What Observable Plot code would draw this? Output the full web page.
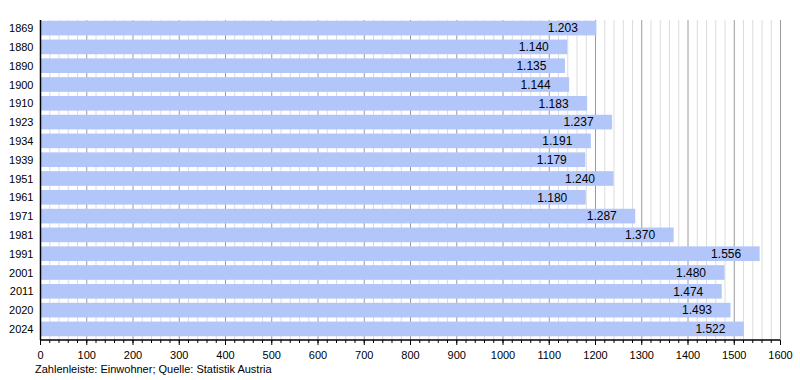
<!DOCTYPE html>
<html><head><meta charset="utf-8">
<script src="https://cdn.jsdelivr.net/npm/d3@7"></script>
<script src="https://cdn.jsdelivr.net/npm/@observablehq/plot@0.6"></script>
<style>
body{margin:0;background:#fff;font-family:"Liberation Sans",Arial,sans-serif;}
#cap{font-size:11px;margin-left:35px;line-height:14px;color:#000;}
</style></head>
<body><div id="chart"></div><div id="cap">Zahlenleiste: Einwohner; Quelle: Statistik Austria</div>
<script>
const years = ["1869","1880","1890","1900","1910","1923","1934","1939","1951","1961","1971","1981","1991","2001","2011","2020","2024"];
const population = [1203,1140,1135,1144,1183,1237,1191,1179,1240,1180,1287,1370,1556,1480,1474,1493,1522];
const majorTicks = d3.range(0, 1601, 100);
const minorTicks = d3.range(0, 1601, 20);

const data = years.map((y, i) => ({year: y, value: population[i]}));
const de = d3.formatLocale({decimal: ",", thousands: ".", grouping: [3], currency: ["", "€"]});
const fmt = de.format(",d");

const chart = Plot.plot({
  width: 800,
  height: 362,
  marginLeft: 40,
  marginRight: 20,
  marginTop: 17,
  marginBottom: 22,
  style: {fontFamily: "Liberation Sans, Arial, sans-serif", fontSize: "11px", color: "#000", background: "#fff"},
  x: {domain: [0, 1600]},
  y: {domain: years, paddingInner: 0.22, paddingOuter: 0.2, round: false},
  marks: [
    Plot.ruleX(minorTicks.filter(d => d % 100 !== 0), {stroke: "#dcdcdc", strokeWidth: 1, insetTop: 3}),
    Plot.ruleX(majorTicks.filter(d => d > 0), {stroke: "#9a9a9a", strokeWidth: 1, insetTop: 3}),
    Plot.barX(data, {y: "year", x: "value", fill: "#b2c6f9"}),
    Plot.text(data, {y: "year", x: "value", text: d => fmt(d.value), textAnchor: "end", dx: -19, fontSize: 12, fill: "#000"}),
    Plot.axisY({tickSize: 0, tickPadding: 7, label: null, fontSize: 11}),
    Plot.axisX({ticks: majorTicks, tickSize: 5, tickPadding: 6, label: null, fontSize: 11, tickFormat: d => String(d)}),
    Plot.axisX({ticks: minorTicks, tickSize: 3, text: null, label: null}),
    Plot.ruleX([0], {stroke: "#000", strokeWidth: 1.5, insetTop: 3})
  ]
});
// bottom axis line, drawn from the chart's own scales
const xs = chart.scale("x"), ys = chart.scale("y");
const yBottom = ys.range[1];
d3.select(chart).append("line")
  .attr("x1", xs.apply(0)).attr("x2", xs.apply(1600))
  .attr("y1", yBottom).attr("y2", yBottom)
  .attr("stroke", "#000").attr("stroke-width", 1.5);
document.getElementById("chart").appendChild(chart);
</script></body></html>
